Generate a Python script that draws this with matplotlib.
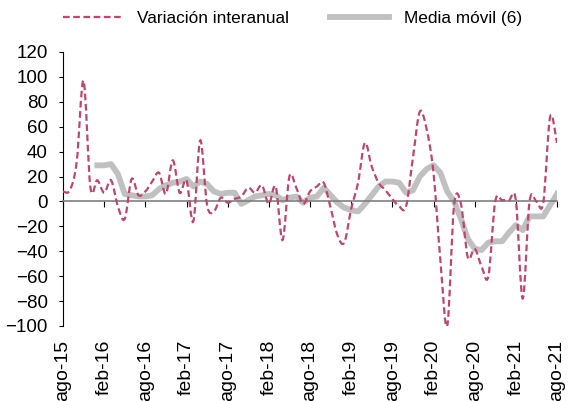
import numpy as np
import matplotlib
matplotlib.use("Agg")
import matplotlib.pyplot as plt
from matplotlib.path import Path
from matplotlib.patches import PathPatch
from matplotlib.lines import Line2D

plt.rcParams['font.family'] = ['Liberation Sans', 'DejaVu Sans']

# variación interanual, mensual desde ago-15 hasta ago-21
variacion = [8, 9, 32, 97, 11, 17, 7, 17, -4, -14, 18, 5, 8, 16, 23, 6, 33, 7,
             17, -16, 49, -3, -8, 3, -1, 2, 4, 11, 7, 13, -2, 12, -31, 20, 11, -2,
             8, 12, 15, -5, -27, -33, -6, 15, 47, 28, 15, 9, 2, -4, -4, 35, 72, 58,
             23, -47, -100, -3, -2, -45, -38, -52, -60, 0, 1, 1, 1, -78, 0, 0, -1,
             68, 47]

# media móvil (6), empieza en ene-16
media_inicio = 5
media_movil = [29, 29, 30, 22, 6, 5, 4, 4, 5, 10, 13, 15, 16, 18, 12, 16, 14, 8,
               6, 7, 7, -2, 1, 4, 5, 6, 5, 1, 3, 4, -1, 3, 4, 11, 5, -1, -5, -7,
               -8, -2, 5, 12, 16, 16, 15, 7, 9, 20, 26, 29, 23, 8, 0, -14, -30,
               -38, -39, -33, -32, -32, -25, -19, -23, -12, -12, -12, -3, 6]

etiquetas = ['ago-15', 'feb-16', 'ago-16', 'feb-17', 'ago-17', 'feb-18', 'ago-18',
             'feb-19', 'ago-19', 'feb-20', 'ago-20', 'feb-21', 'ago-21']

rojo = '#BE4670'
gris = '#C0C0C0'

fig = plt.figure(figsize=(5.68, 4.01), dpi=100)
ax = fig.add_axes([63 / 568, 1 - 326 / 401, 494 / 568, 274 / 401])

x = np.arange(len(variacion))
y = np.array(variacion, dtype=float)

# línea suavizada (tipo Excel) con curvas de Bezier que pasan por cada punto
verts = [(x[0], y[0])]
codes = [Path.MOVETO]
n = len(x)
for i in range(n - 1):
    p0 = np.array([x[max(i - 1, 0)], y[max(i - 1, 0)]])
    p1 = np.array([x[i], y[i]])
    p2 = np.array([x[i + 1], y[i + 1]])
    p3 = np.array([x[min(i + 2, n - 1)], y[min(i + 2, n - 1)]])
    c1 = p1 + (p2 - p0) / 6
    c2 = p2 - (p3 - p1) / 6
    verts += [tuple(c1), tuple(c2), tuple(p2)]
    codes += [Path.CURVE4] * 3

xm = np.arange(media_inicio, media_inicio + len(media_movil))
ax.plot(xm, media_movil, color=gris, lw=4.2, solid_joinstyle='round', zorder=2)

patch = PathPatch(Path(verts, codes), fill=False, edgecolor=rojo, lw=1.6,
                  linestyle=(0, (3, 1.6)), zorder=3)
ax.add_patch(patch)

ax.set_xlim(0, 72)
ax.set_ylim(-100, 120)
ax.set_yticks(np.arange(-100, 121, 20))
ax.tick_params(axis='y', labelsize=13.5, length=3, direction='out', pad=8)

for s in ['top', 'right']:
    ax.spines[s].set_visible(False)
ax.spines['left'].set_color('black')
ax.spines['bottom'].set_position(('data', 0))
ax.spines['bottom'].set_color('#808080')
ax.spines['bottom'].set_linewidth(1.2)

posiciones = np.arange(0, 73, 6)
ax.set_xticks(posiciones)
ax.set_xticklabels([])
ax.tick_params(axis='x', length=4, direction='out', color='black')

sec = ax.secondary_xaxis('bottom')
sec.spines['bottom'].set_visible(False)
sec.set_xticks(posiciones)
sec.set_xticklabels(etiquetas, rotation=90, fontsize=14)
sec.tick_params(length=0, pad=10)

handles = [Line2D([], [], color=rojo, lw=1.6, linestyle=(0, (3, 1.6))),
           Line2D([], [], color=gris, lw=4.2)]
fig.legend(handles, ['Variación interanual', 'Media móvil (6)'], ncol=2,
           frameon=False, fontsize=12.4, loc='center',
           bbox_to_anchor=(0.515, 0.955), handlelength=3.4,
           handletextpad=0.9, columnspacing=2.4)

fig.savefig('out.png', dpi=100)
